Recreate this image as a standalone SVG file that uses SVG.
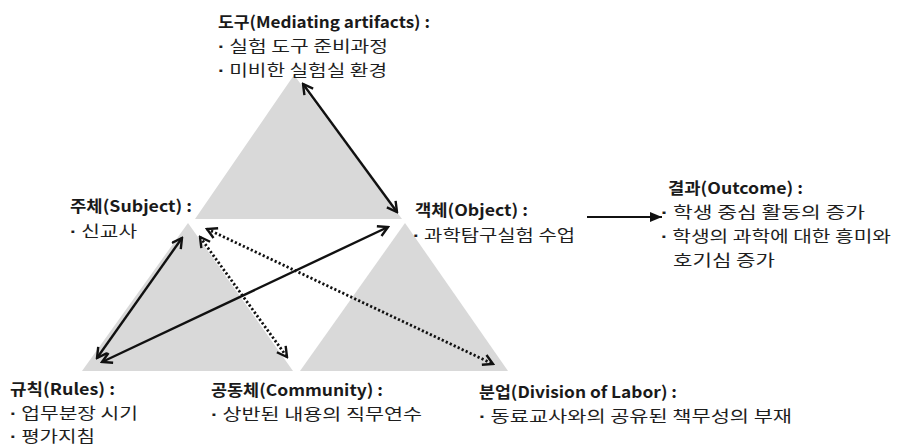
<svg xmlns="http://www.w3.org/2000/svg" width="907" height="447" viewBox="0 0 907 447">
<style>
.tri{fill:#d9d9d9;stroke:none}
.ln{stroke:#111;stroke-width:2.4;fill:none}
.dot{stroke:#111;stroke-width:2.8;fill:none;stroke-dasharray:2.2 2.2}
.t{font-family:"Noto Sans CJK KR","Noto Sans",sans-serif;font-size:16px;fill:#1e1e1e}
.b{font-weight:bold;fill:#1a1a1a}
.bl{font-family:"Liberation Sans",sans-serif;font-weight:bold}
</style>
<defs>
<marker id="open" viewBox="0 0 12 12" refX="10.5" refY="6" markerWidth="13" markerHeight="13" markerUnits="userSpaceOnUse" orient="auto-start-reverse">
<path d="M1.5,1 L10.5,6 L1.5,11" fill="none" stroke="#111" stroke-width="2.2"/>
</marker>
<marker id="fill" viewBox="0 0 12 10" refX="12" refY="5" markerWidth="12" markerHeight="10" markerUnits="userSpaceOnUse" orient="auto">
<path d="M0,0 L12,5 L0,10 Z" fill="#111"/>
</marker>
</defs>
<g id="triangles">
<polygon class="tri" points="294,75 195,219 402,219"/>
<polygon class="tri" points="188,223 82,371 293,371"/>
<polygon class="tri" points="405,223 300,371 508,371"/>
</g>
<g id="connectors">
<line class="ln" x1="303" y1="84" x2="397" y2="212" marker-start="url(#open)" marker-end="url(#open)"/>
<line class="ln" x1="182" y1="238" x2="97" y2="358" marker-start="url(#open)" marker-end="url(#open)"/>
<line class="ln" x1="388" y1="227" x2="102" y2="362" marker-start="url(#open)" marker-end="url(#open)"/>
<line class="dot" x1="200" y1="237" x2="287" y2="357" marker-start="url(#open)" marker-end="url(#open)"/>
<line class="dot" x1="207" y1="229" x2="493" y2="364" marker-start="url(#open)" marker-end="url(#open)"/>
<line class="ln" style="stroke-width:1.8" x1="587" y1="217" x2="662" y2="217" marker-end="url(#fill)"/>
</g>
<g id="tool">
<text class="t b" x="218" y="28" textLength="212" lengthAdjust="spacingAndGlyphs">도구(Mediating artifacts) :</text>
<text class="t" x="218" y="52" textLength="170" lengthAdjust="spacingAndGlyphs"><tspan class="bl">·</tspan> 실험 도구 준비과정</text>
<text class="t" x="218" y="76" textLength="169" lengthAdjust="spacingAndGlyphs"><tspan class="bl">·</tspan> 미비한 실험실 환경</text>
</g>
<g id="subject">
<text class="t b" x="70" y="212" textLength="122" lengthAdjust="spacingAndGlyphs">주체(Subject) :</text>
<text class="t" x="70" y="237" textLength="67" lengthAdjust="spacingAndGlyphs"><tspan class="bl">·</tspan> 신교사</text>
</g>
<g id="object">
<text class="t b" x="415" y="216" textLength="113" lengthAdjust="spacingAndGlyphs">객체(Object) :</text>
<text class="t" x="413" y="241" textLength="162" lengthAdjust="spacingAndGlyphs"><tspan class="bl">·</tspan> 과학탐구실험 수업</text>
</g>
<g id="outcome">
<text class="t b" x="668" y="194" textLength="135" lengthAdjust="spacingAndGlyphs">결과(Outcome) :</text>
<text class="t" x="661" y="218" textLength="204" lengthAdjust="spacingAndGlyphs"><tspan class="bl">·</tspan> 학생 중심 활동의 증가</text>
<text class="t" x="661" y="242" textLength="230" lengthAdjust="spacingAndGlyphs"><tspan class="bl">·</tspan> 학생의 과학에 대한 흥미와</text>
<text class="t" x="673" y="266" textLength="102" lengthAdjust="spacingAndGlyphs">호기심 증가</text>
</g>
<g id="rules">
<text class="t b" x="10" y="395" textLength="105" lengthAdjust="spacingAndGlyphs">규칙(Rules) :</text>
<text class="t" x="10" y="418.5" textLength="128" lengthAdjust="spacingAndGlyphs"><tspan class="bl">·</tspan> 업무분장 시기</text>
<text class="t" x="10" y="442" textLength="85" lengthAdjust="spacingAndGlyphs"><tspan class="bl">·</tspan> 평가지침</text>
</g>
<g id="community">
<text class="t b" x="211" y="396" textLength="172" lengthAdjust="spacingAndGlyphs">공동체(Community) :</text>
<text class="t" x="211" y="420" textLength="211" lengthAdjust="spacingAndGlyphs"><tspan class="bl">·</tspan> 상반된 내용의 직무연수</text>
</g>
<g id="division">
<text class="t b" x="479" y="398" textLength="198" lengthAdjust="spacingAndGlyphs">분업(Division of Labor) :</text>
<text class="t" x="479" y="422" textLength="313" lengthAdjust="spacingAndGlyphs"><tspan class="bl">·</tspan> 동료교사와의 공유된 책무성의 부재</text>
</g>
</svg>
